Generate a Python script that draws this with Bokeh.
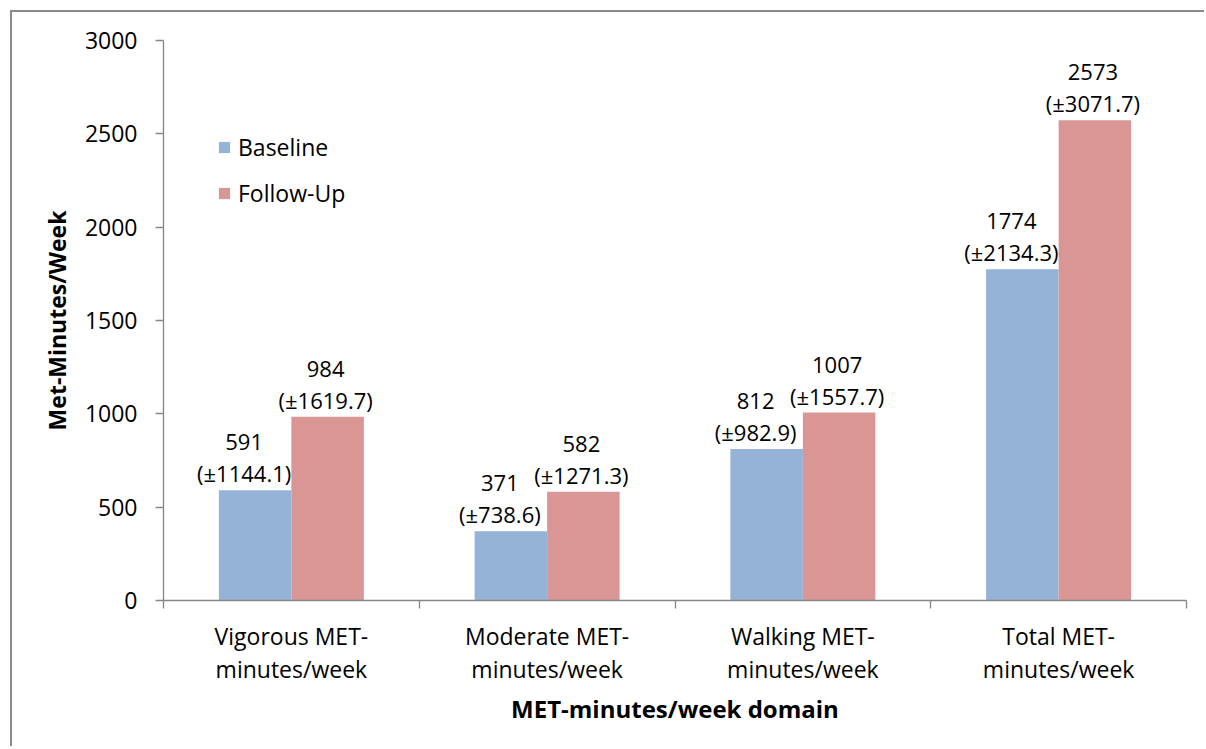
from bokeh.plotting import figure
from bokeh.models import Range1d, FixedTicker, LinearAxis, Legend, LegendItem
from bokeh.core.properties import value
from bokeh.embed import file_html
from bokeh.resources import INLINE

# ---- data ----
categories = ["Vigorous MET-minutes/week", "Moderate MET-minutes/week",
              "Walking MET-minutes/week", "Total MET-minutes/week"]
series_names = ["Baseline", "Follow-Up"]
baseline_mean = [591, 371, 812, 1774]
baseline_sd = [1144.1, 738.6, 982.9, 2134.3]
followup_mean = [984, 582, 1007, 2573]
followup_sd = [1619.7, 1271.3, 1557.7, 3071.7]
y_ticks = [0, 500, 1000, 1500, 2000, 2500, 3000]
x_title = "MET-minutes/week domain"
y_title = "Met-Minutes/Week"

# ---- style ----
FONT = "Open Sans"
AXIS_COLOR = "#868686"
COLORS = ["#95B3D7", "#D99694"]
BAR_W = 0.2835
FS = "23px"
FS_DATA = "22px"

n = len(categories)
p = figure(width=1194, height=736, output_backend="svg", toolbar_location=None,
           x_range=Range1d(0, n), y_range=Range1d(0, max(y_ticks)),
           x_axis_type=None, y_axis_type=None,
           min_border_left=151, min_border_right=20, min_border_top=28, min_border_bottom=148)
p.outline_line_color = None
p.xgrid.visible = False
p.ygrid.visible = False
p.background_fill_color = "white"
p.border_fill_color = "white"
# chart-area border: only its left and top edges fall inside the window
p.styles = {"border-left": "2px solid #8a8a8a", "border-top": "2px solid #8a8a8a",
            "border-right": "0px none", "border-bottom": "0px none",
            "margin-left": "10px", "margin-top": "10px", "overflow": "hidden"}

centers = [i + 0.5 for i in range(n)]
xb = [c - BAR_W / 2 for c in centers]
xf = [c + BAR_W / 2 for c in centers]

rb = p.vbar(x=xb, top=baseline_mean, width=BAR_W, fill_color=COLORS[0], line_color=None)
rf = p.vbar(x=xf, top=followup_mean, width=BAR_W, fill_color=COLORS[1], line_color=None)

# data labels
for xs, means, sds, xoff in [(xb, baseline_mean, baseline_sd, -11), (xf, followup_mean, followup_sd, -2)]:
    p.text(x=xs, y=means, text=[str(m) for m in means], x_offset=xoff, y_offset=-48,
           text_align="center", text_baseline="middle", text_font=value(FONT),
           text_font_size=FS_DATA, text_color="black")
    p.text(x=xs, y=means, text=["(\u00b1%s)" % s for s in sds], x_offset=xoff, y_offset=-17,
           text_align="center", text_baseline="middle", text_font=value(FONT),
           text_font_size=FS_DATA, text_color="black")

# axes
labels = {c: cat.replace("MET-", "MET-\n") for c, cat in zip(centers, categories)}
xaxis = LinearAxis(ticker=FixedTicker(ticks=centers, minor_ticks=list(range(n + 1))),
                   major_label_overrides=labels, axis_label=x_title)
xaxis.axis_line_color = AXIS_COLOR
xaxis.axis_line_width = 1.3
xaxis.major_tick_line_color = None
xaxis.major_tick_in = 0
xaxis.major_tick_out = 8
xaxis.minor_tick_line_color = AXIS_COLOR
xaxis.minor_tick_line_width = 1.3
xaxis.minor_tick_in = 0
xaxis.minor_tick_out = 8
xaxis.major_label_standoff = 11
xaxis.major_label_text_font = FONT
xaxis.major_label_text_font_size = FS
xaxis.major_label_text_color = "black"
xaxis.major_label_text_line_height = 1.05
xaxis.axis_label_text_font = FONT
xaxis.axis_label_text_font_size = "24px"
xaxis.axis_label_text_font_style = "bold"
xaxis.axis_label_text_color = "black"
xaxis.axis_label_standoff = 4
p.add_layout(xaxis, "below")

yaxis = LinearAxis(ticker=FixedTicker(ticks=y_ticks, minor_ticks=[]), axis_label=y_title)
yaxis.axis_line_color = AXIS_COLOR
yaxis.axis_line_width = 1.3
yaxis.major_tick_line_color = AXIS_COLOR
yaxis.major_tick_line_width = 1.3
yaxis.major_tick_in = 0
yaxis.major_tick_out = 8
yaxis.minor_tick_line_color = None
yaxis.major_label_standoff = 18
yaxis.major_label_text_font = FONT
yaxis.major_label_text_font_size = FS
yaxis.major_label_text_color = "black"
yaxis.axis_label_text_font = FONT
yaxis.axis_label_text_font_size = "23px"
yaxis.axis_label_text_font_style = "bold"
yaxis.axis_label_text_color = "black"
yaxis.axis_label_standoff = 9
p.add_layout(yaxis, "left")

legend = Legend(items=[LegendItem(label=series_names[0], renderers=[rb]),
                       LegendItem(label=series_names[1], renderers=[rf])],
                location=(54, 391), orientation="vertical")
legend.glyph_width = 14
legend.glyph_height = 14
legend.label_standoff = 7
legend.spacing = 14
legend.padding = 0
legend.margin = 0
legend.border_line_color = None
legend.background_fill_alpha = 0
legend.label_text_font = FONT
legend.label_text_font_size = FS
legend.label_text_color = "black"
p.add_layout(legend, "center")

open("out.html", "w").write(file_html(p, INLINE))
